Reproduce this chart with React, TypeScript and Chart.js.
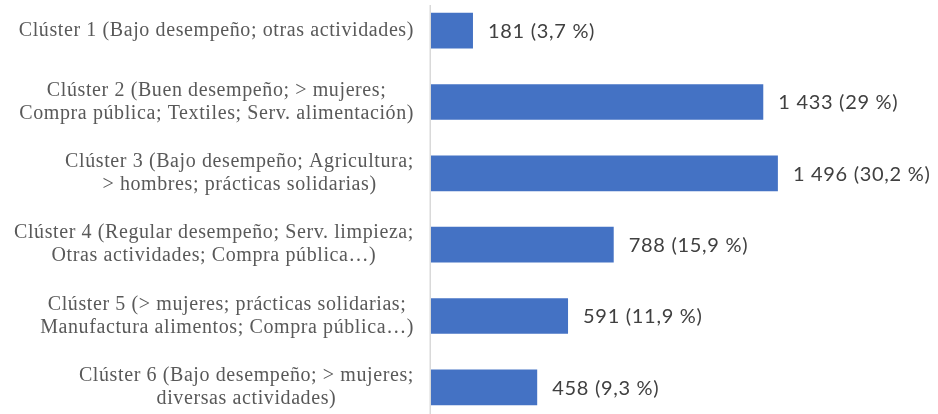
import React, { useEffect, useRef } from "react";
import { Chart, registerables } from "chart.js";

Chart.register(...registerables);

const categories: string[][] = [
  ["Clúster 1 (Bajo desempeño; otras actividades)"],
  ["Clúster 2 (Buen desempeño; > mujeres;", "Compra pública; Textiles; Serv. alimentación)"],
  ["Clúster 3 (Bajo desempeño; Agricultura;", "> hombres; prácticas solidarias)"],
  ["Clúster 4 (Regular desempeño; Serv. limpieza;", "Otras actividades; Compra pública…)"],
  ["Clúster 5 (> mujeres; prácticas solidarias;", "Manufactura alimentos; Compra pública…)"],
  ["Clúster 6 (Bajo desempeño; > mujeres;", "diversas actividades)"],
];
const counts: number[] = [181, 1433, 1496, 788, 591, 458];
const shares: string[] = ["3,7", "29", "30,2", "15,9", "11,9", "9,3"];
const xMax = 1600;

function fmt(n: number): string {
  return String(n).replace(/\B(?=(\d{3})+(?!\d))/g, " ");
}

const labelPlugin = {
  id: "customLabels",
  afterDatasetsDraw(chart: any) {
    const ctx = chart.ctx as CanvasRenderingContext2D;
    const area = chart.chartArea;
    const xs = chart.scales.x;
    const ys = chart.scales.y;
    ctx.save();
    // axis line
    ctx.strokeStyle = "#d9d9d9";
    ctx.lineWidth = 1.5;
    ctx.beginPath();
    ctx.moveTo(area.left - 0.75, 10);
    ctx.lineTo(area.left - 0.75, area.bottom);
    ctx.stroke();

    // category labels
    ctx.font = '20px "Liberation Serif"';
    (ctx as any).letterSpacing = "0.6px";
    ctx.fillStyle = "#595959";
    ctx.textAlign = "center";
    ctx.textBaseline = "middle";
    const rightEdge = 414;
    categories.forEach((lines, i) => {
      const y = ys.getPixelForValue(i);
      const w = Math.max(...lines.map((l) => ctx.measureText(l).width));
      const cx = rightEdge - w / 2;
      lines.forEach((l, j) => {
        ctx.fillText(l, cx, y + (j - (lines.length - 1) / 2) * 23);
      });
    });

    // value labels
    ctx.font = '20px "Lato"';
    (ctx as any).letterSpacing = "0.7px";
    ctx.fillStyle = "#404040";
    ctx.textAlign = "left";
    counts.forEach((v, i) => {
      const x = xs.getPixelForValue(v) + 15;
      const y = ys.getPixelForValue(i) + 1;
      ctx.fillText(`${fmt(v)} (${shares[i]} %)`, x, y);
    });
    ctx.restore();
  },
};

export default function App() {
  const ref = useRef<HTMLCanvasElement>(null);
  useEffect(() => {
    if (!ref.current) return;
    const chart = new Chart(ref.current, {
      type: "bar",
      data: {
        labels: categories.map((c) => c.join(" ")),
        datasets: [
          {
            data: counts,
            backgroundColor: "#4472C4",
            borderWidth: 0,
            barPercentage: 0.5,
            categoryPercentage: 1,
          },
        ],
      },
      options: {
        indexAxis: "y",
        animation: false,
        responsive: true,
        maintainAspectRatio: false,
        devicePixelRatio: 1,
        layout: { padding: { left: 431, right: 136, top: 0, bottom: 0 } },
        plugins: { legend: { display: false }, tooltip: { enabled: false } },
        scales: {
          x: { display: false, min: 0, max: xMax },
          y: { display: false },
        },
      },
      plugins: [labelPlugin],
    });
    return () => chart.destroy();
  }, []);
  return (
    <div style={{ position: "absolute", left: 0, top: -5, width: 938, height: 428, background: "#fff" }}>
      <canvas ref={ref} />
    </div>
  );
}
